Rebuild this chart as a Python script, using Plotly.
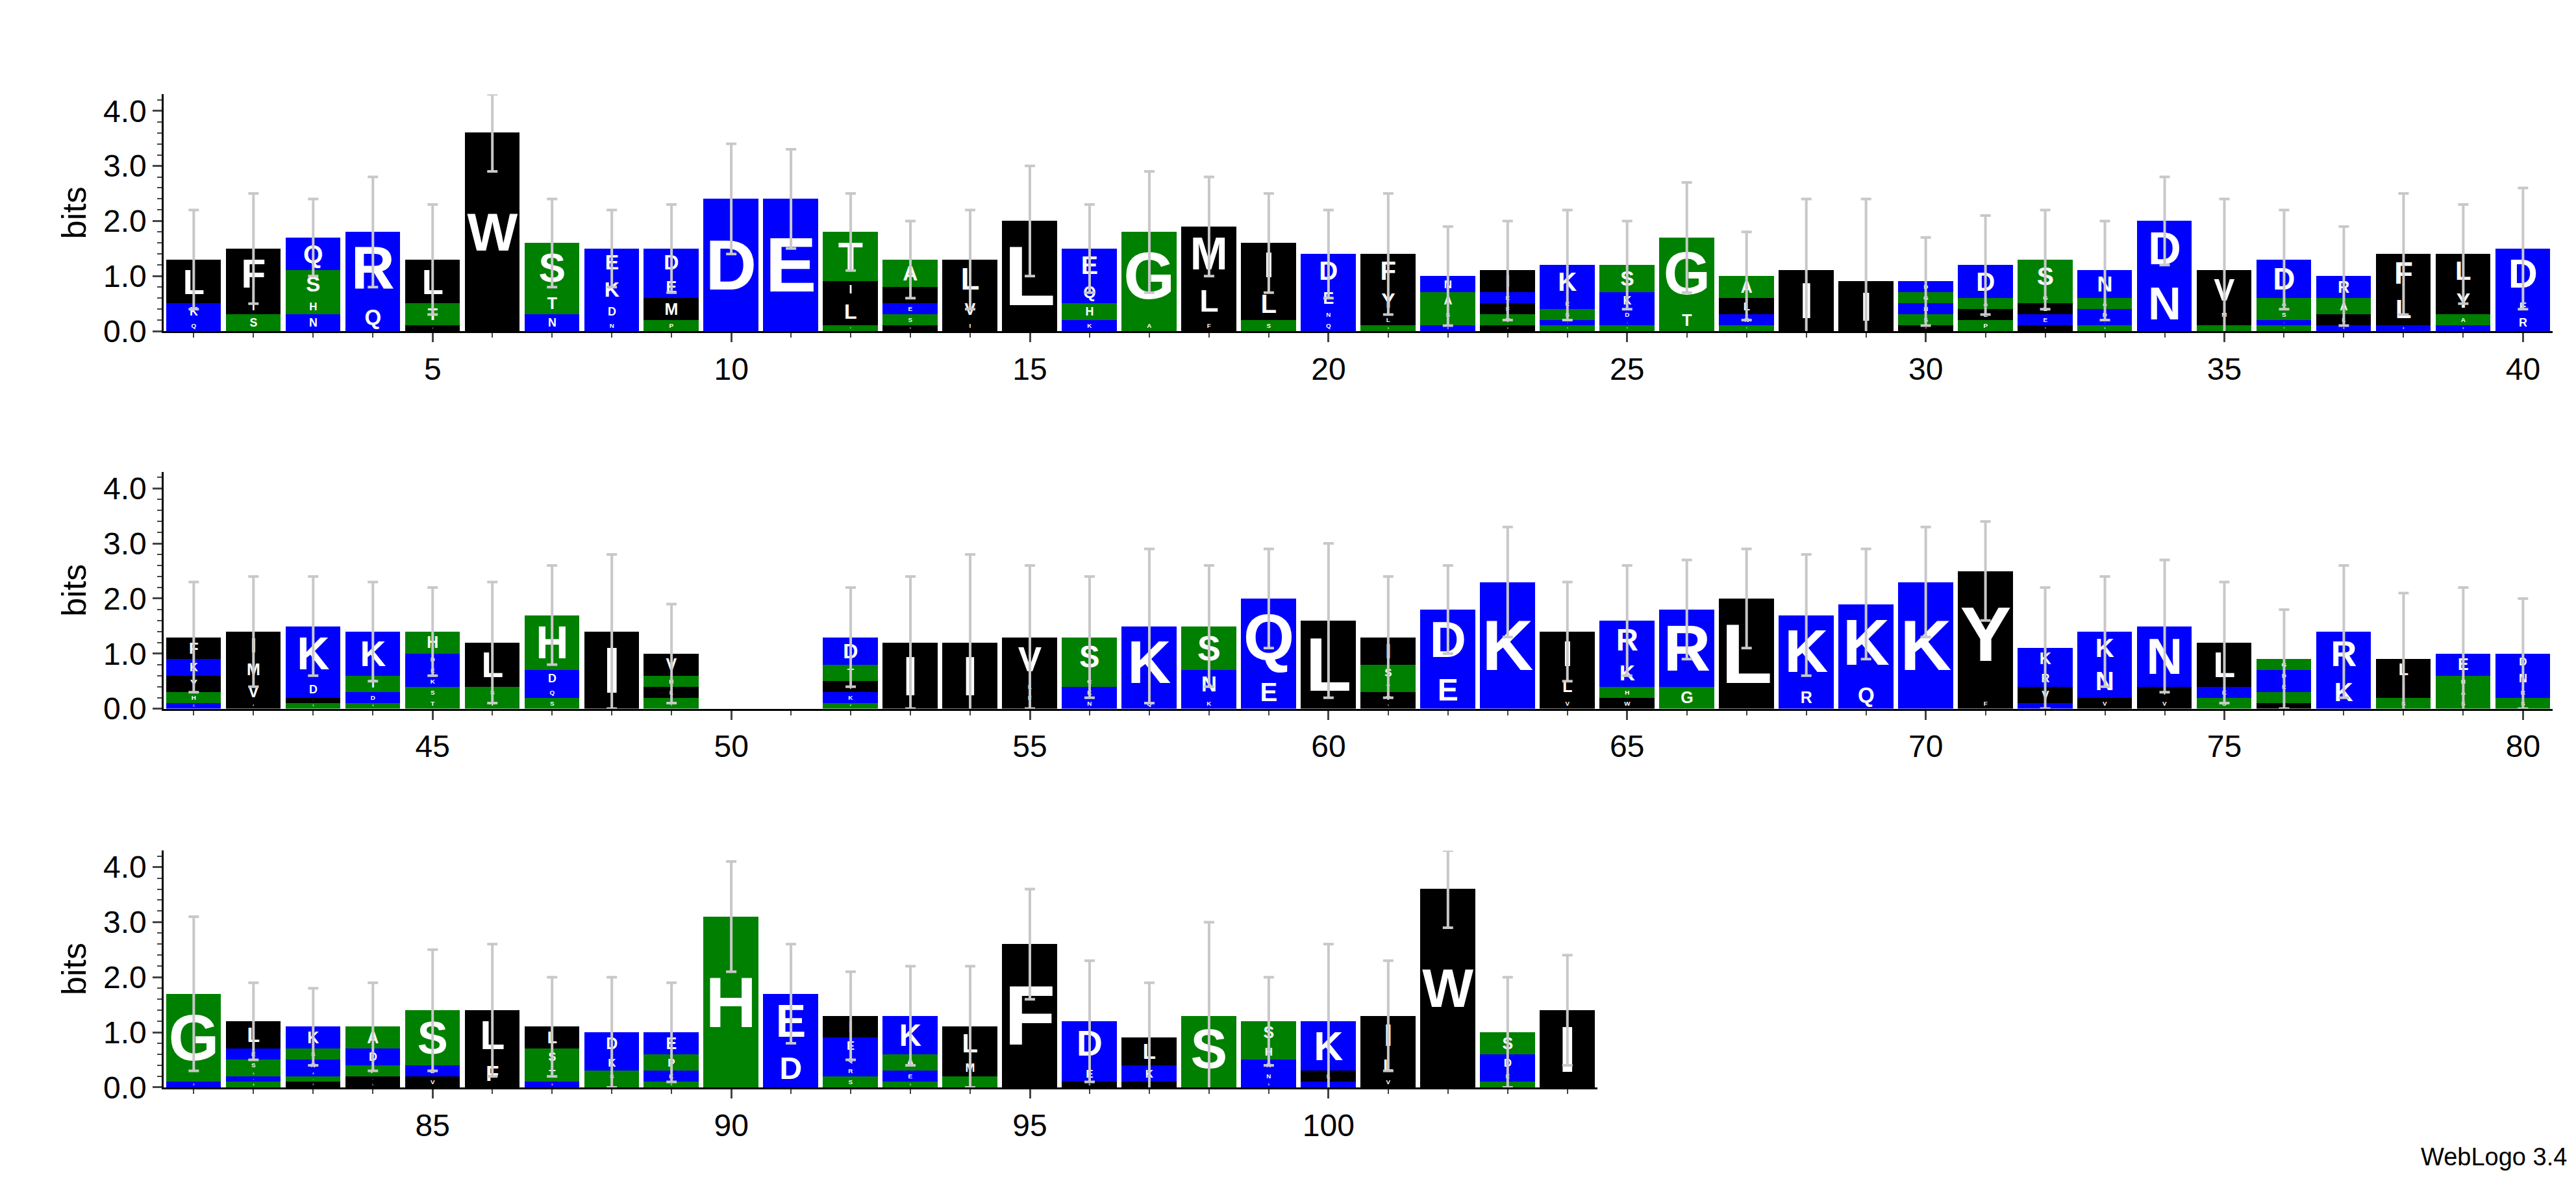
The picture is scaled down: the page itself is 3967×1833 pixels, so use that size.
import plotly.graph_objects as go
from plotly.subplots import make_subplots

# stacks per position, listed top letter first: "letter height ..."
stacks1 = ["L.8 K.3 Q.2", "F.9 I.3 S.3", "Q.6 S.5 H.3 N.3", "R1.3 Q.5", "L.8 T.4 I.1",
           "W3.6", "S.9 T.4 N.3", "E.5 K.5 D.3 N.2", "D.5 E.4 M.4 P.2", "D2.4",
           "E2.4", "T.9 I.3 L.5 T.1", "A.5 I.3 E.2 S.2 V.1", "L.7 V.4 I.2", "L2.0",
           "E.6 Q.4 H.3 K.2", "G1.6 A.2", "M1.0 L.7 F.2", "I.8 L.6 S.2", "D.6 E.4 N.2 Q.2",
           "F.6 Y.5 L.2 S.1", "N.3 A.3 S.2 H.1 K.1", "I.4 E.2 F.2 T.2 V.1", "K.6 E.2 S.2 Q.1 T.1", "S.5 K.3 D.2 R.1 T.1",
           "G1.3 T.4", "A.4 L.3 N.2 T.1", "I1.1", "I.9", "D.2 G.2 N.2 S.2 Y.1",
           "D.6 A.2 L.2 P.2", "S.6 G.2 L.2 E.2 Y.1", "N.5 A.2 D.2 E.1 S.1", "D1.0 N1.0", "V.7 M.2 L.1 T.1",
           "D.7 A.2 S.2 Q.1 T.1", "R.4 A.3 L.2 K.1", "F.7 L.6 E.1", "L.6 Y.5 A.2 E.1", "D.9 E.3 R.3"]
stacks2 = ["F.4 K.3 Y.3 H.2 Q.1", "I.5 M.4 V.4 F.1", "K1.0 D.3 I.1 S.1", "K.8 T.3 D.2 S.1", "H.4 D.2 E.2 K.2 S.2 T.2",
           "L.8 S.2 T.2", "H1.0 D.3 Q.2 S.2", "I1.4", "V.4 H.2 L.2 S.1 T.1", "",
           "", "D.5 T.3 I.2 K.2 P.1", "I1.2", "I1.2", "V.8 L.2 F.2 Y.1",
           "S.7 C.2 K.2 N.2", "K1.3 Q.2", "S.8 N.5 K.2", "Q1.4 E.6", "L1.6",
           "I.5 S.3 T.2 V.2 Y.1", "D1.1 E.7", "K2.3", "I.8 L.4 V.2", "R.7 K.5 H.2 W.2",
           "R1.4 G.4", "L2.0", "K1.3 R.4", "K1.4 Q.5", "K2.3",
           "Y2.3 F.2", "K.4 R.3 V.3 Q.1", "K.6 N.6 V.2", "N1.1 I.2 V.2", "L.8 K.2 S.2",
           "G.2 D.2 E.2 S.1 T.1 V.1", "R.8 K.6", "L.4 I.3 S.2", "E.4 H.2 A.2 S.2", "D.3 N.3 R.2 S.2"]
stacks3 = ["G1.6 K.1", "L.5 E.2 S.2 G.1 Q.1 A.1", "K.4 S.2 N.2 R.1 T.1 V.1", "A.4 D.3 P.2 F.1 L.1", "S1.0 D.2 V.2",
           "L.9 F.5", "L.4 S.3 T.3 K.1", "D.4 K.3 S.2 G.1", "E.4 P.3 K.2 S.1", "H3.1",
           "E1.0 D.7", "I.4 E.3 Q.2 R.2 S.2", "K.7 A.3 E.2 S.1", "L.6 M.3 S.1 T.1", "F2.6",
           "D.8 E.3 M.1", "L.5 K.3 I.1", "S1.2 C.1", "S.4 H.3 K.2 N.2 R.1", "K.9 L.2 Q.1",
           "I.7 L.4 V.2", "W3.6", "S.4 D.3 E.2 G.1", "I1.4"]
# top of error whisker (bits)
err1 = [2.2, 2.5, 2.4, 2.8, 2.3, 4.3, 2.4, 2.2, 2.3, 3.4, 3.3, 2.5, 2.0, 2.2, 3.0, 2.3, 2.9, 2.8, 2.5, 2.2,
        2.5, 1.9, 2.0, 2.2, 2.0, 2.7, 1.8, 2.4, 2.4, 1.7, 2.1, 2.2, 2.0, 2.8, 2.4, 2.2, 1.9, 2.5, 2.3, 2.6]
err2 = [2.3, 2.4, 2.4, 2.3, 2.2, 2.3, 2.6, 2.8, 1.9, 0, 0, 2.2, 2.4, 2.8, 2.6, 2.4, 2.9, 2.6, 2.9, 3.0,
        2.4, 2.6, 3.3, 2.3, 2.6, 2.7, 2.9, 2.8, 2.9, 3.3, 3.4, 2.2, 2.4, 2.7, 2.3, 1.8, 2.6, 2.1, 2.2, 2.0]
err3 = [3.1, 1.9, 1.8, 1.9, 2.5, 2.6, 2.0, 2.0, 1.9, 4.1, 2.6, 2.1, 2.2, 2.2, 3.6, 2.3, 1.9, 3.0, 2.0, 2.6,
        2.3, 4.3, 2.0, 2.4]

green = set("GSTAHCP")
blue = set("KRDENQ")


def colour(a):
    if a in green:
        return "#008000"
    if a in blue:
        return "#0000ff"
    return "#000000"


fig = make_subplots(rows=3, cols=1)
rows = [(stacks1, err1, 1), (stacks2, err2, 41), (stacks3, err3, 81)]
for r, (stacks, errs, start) in enumerate(rows, 1):
    xs, ys, bases, cols, txt = [], [], [], [], []
    ex, ey, ee = [], [], []
    for i, s in enumerate(stacks):
        pos = start + i
        items = [(t[0], float(t[1:])) for t in s.split()]
        b = 0.0
        for a, h in reversed(items):
            xs.append(pos); ys.append(h); bases.append(b)
            cols.append(colour(a)); txt.append(a)
            b += h
        if items:
            ex.append(pos); ey.append(b); ee.append(errs[i] - b)
    fig.add_trace(go.Bar(x=xs, y=ys, base=bases, text=txt, width=0.92,
                         marker=dict(color=cols, line=dict(width=0)),
                         textposition="inside", insidetextanchor="middle", textangle=0,
                         constraintext="inside",
                         textfont=dict(color="white", size=150, family="Liberation Sans", weight="bold"),
                         showlegend=False, hoverinfo="skip"), row=r, col=1)
    fig.add_trace(go.Scatter(x=ex, y=ey, mode="markers", marker=dict(size=1, color="rgba(0,0,0,0)"),
                             error_y=dict(type="data", array=ee, symmetric=True, color="#c8c8c8",
                                          thickness=4, width=8),
                             showlegend=False, hoverinfo="skip"), row=r, col=1)

doms = [[0.722, 0.924], [0.400, 0.602], [0.077, 0.279]]
xr = [[0.5, 40.5], [40.5, 80.5], [80.5, 104.5]]
for r in range(3):
    sfx = "" if r == 0 else str(r + 1)
    end = 0.989 if r < 2 else 0.0616 + 0.6 * (0.989 - 0.0616)
    fig.layout["xaxis" + sfx].update(domain=[0.0616, end], range=xr[r], dtick=5, tick0=0,
                                     showgrid=False, showline=True, linecolor="black", linewidth=3,
                                     ticks="outside", ticklen=14, tickwidth=3,
                                     minor=dict(dtick=1, ticks="outside", ticklen=7, tickwidth=2),
                                     zeroline=False)
    fig.layout["yaxis" + sfx].update(domain=doms[r], range=[0, 4.3], dtick=1, tickformat=".1f",
                                     showgrid=False, showline=True, linecolor="black", linewidth=3,
                                     ticks="outside", ticklen=14, tickwidth=3,
                                     minor=dict(dtick=0.2, ticks="outside", ticklen=7, tickwidth=2),
                                     title=dict(text="bits", font=dict(size=52), standoff=10),
                                     zeroline=False)

fig.add_annotation(text="WebLogo 3.4", xref="paper", yref="paper", x=0.995, y=0.005,
                   xanchor="right", yanchor="bottom", showarrow=False, font=dict(size=38))
fig.update_layout(width=3967, height=1833, barmode="overlay", bargap=0,
                  plot_bgcolor="white", paper_bgcolor="white",
                  margin=dict(l=0, r=0, t=0, b=0),
                  font=dict(family="Liberation Sans", size=48, color="black"))
fig.write_html("out.html")
